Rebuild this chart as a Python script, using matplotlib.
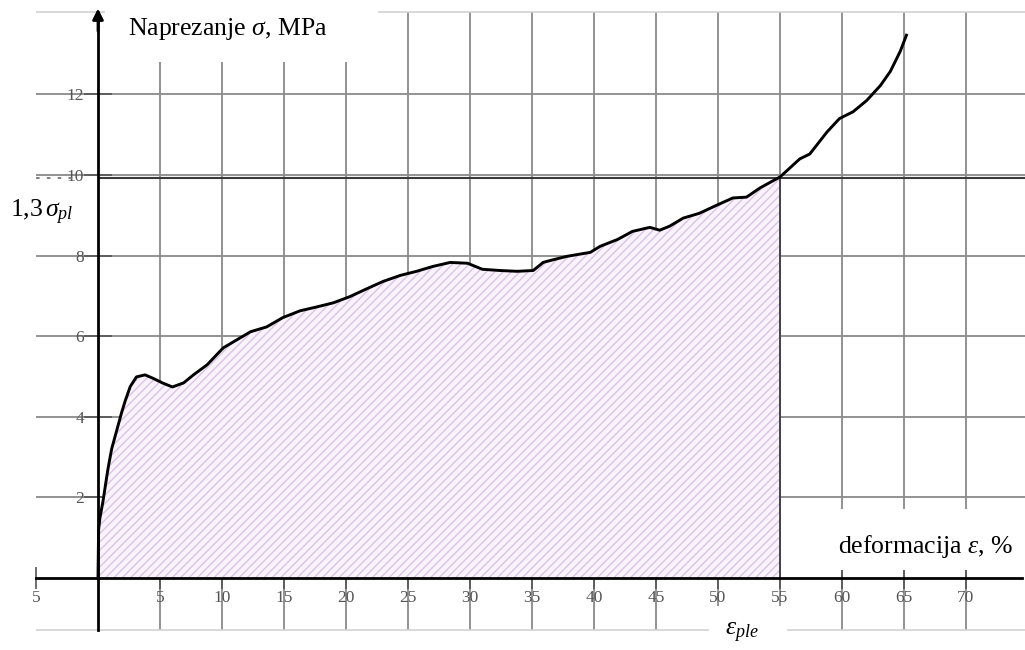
import matplotlib
matplotlib.use("Agg")
import matplotlib.pyplot as plt
import numpy as np
from matplotlib.patches import Rectangle

plt.rcParams["font.family"] = ["Liberation Serif", "DejaVu Serif"]
plt.rcParams["mathtext.fontset"] = "custom"
plt.rcParams["mathtext.rm"] = "Liberation Serif"
plt.rcParams["mathtext.it"] = "Liberation Serif:italic"
plt.rcParams["hatch.color"] = "#dcc2e6"
plt.rcParams["hatch.linewidth"] = 1.0

# Compression test: strain (%) vs. stress (MPa)
strain = [0.0, 0.05, 0.16, 0.4, 0.8, 1.1, 1.5, 1.9, 2.2, 2.6, 3.1, 3.8, 4.4, 5.2,
          6.0, 6.9, 7.7, 8.8, 10.1, 11.2, 12.3, 13.6, 14.9, 16.3, 17.7, 19.0,
          20.3, 21.7, 23.0, 24.4, 25.7, 27.0, 28.4, 29.8, 31.0, 32.4, 33.8,
          35.1, 35.9, 36.5, 37.8, 39.7, 40.5, 41.9, 43.1, 44.5, 45.3, 46.1,
          47.2, 48.5, 49.9, 51.2, 52.3, 53.4, 54.4, 55.0, 56.6, 57.4, 58.8,
          59.8, 60.9, 62.0, 63.1, 63.9, 64.7, 65.2]
stress = [0.0, 1.2, 1.5, 1.9, 2.7, 3.2, 3.65, 4.1, 4.4, 4.75, 4.99, 5.04, 4.96,
          4.84, 4.74, 4.84, 5.04, 5.29, 5.71, 5.91, 6.11, 6.23, 6.46, 6.63,
          6.73, 6.83, 6.98, 7.18, 7.36, 7.51, 7.61, 7.73, 7.83, 7.81, 7.66,
          7.63, 7.61, 7.63, 7.83, 7.88, 7.98, 8.08, 8.23, 8.40, 8.60, 8.70,
          8.63, 8.73, 8.93, 9.05, 9.25, 9.43, 9.45, 9.68, 9.85, 9.95, 10.4,
          10.52, 11.07, 11.4, 11.57, 11.85, 12.22, 12.57, 13.07, 13.47]

sigma_13pl = 9.93      # 1,3 * plateau stress
eps_ple = 55.0         # plateau end strain

xtick_vals = [-5, 5, 10, 15, 20, 25, 30, 35, 40, 45, 50, 55, 60, 65, 70]
xtick_labels = ["5", "5", "10", "15", "20", "25", "30", "35", "40", "45",
                "50", "55", "60", "65", "70"]
ytick_vals = [2, 4, 6, 8, 10, 12]
ytick_labels = ["2", "4", "6", "8", "10", "12"]

x_grid = [5, 10, 15, 20, 25, 30, 35, 40, 45, 50, 55, 60, 65, 70]
y_grid = [2, 4, 6, 8, 10, 12]
x_lo, x_hi = -5.0, 74.8
y_lo, y_hi = -1.29, 14.04

fig = plt.figure(figsize=(10.25, 6.5), dpi=100)
ax = fig.add_axes([0, 0, 1, 1])
ax.set_xlim(-7.903, 74.76)
ax.set_ylim(-1.787, 14.342)

grid_c = "#8a8a8a"
ax.vlines(x_grid, y_lo, y_hi, color=grid_c, lw=1.3, zorder=1)
ax.hlines(y_grid, x_lo, x_hi, color=grid_c, lw=1.3, zorder=1)
ax.hlines([y_lo, y_hi], x_lo, x_hi, color="#d2d2d2", lw=1.2, zorder=1)

# shaded energy-absorption area up to eps_ple
s = np.array(strain)
t = np.array(stress)
m = s <= eps_ple
ax.fill_between(s[m], 0, t[m], facecolor="#f9f3fb", edgecolor="#dcc2e6",
                hatch="////", lw=0, zorder=2)
ax.vlines(eps_ple, 0, t[m][-1], color="#444444", lw=1.4, zorder=3)

# 1,3 sigma_pl level
ax.hlines(sigma_13pl, 0, x_hi, color="#3a3a3a", lw=1.5, zorder=3)
ax.hlines(sigma_13pl, -5, -2.0, color="#777777", lw=1.3,
          linestyles=(0, (2, 4)), zorder=3)

ax.plot(strain, stress, color="black", lw=2.1, zorder=5,
        solid_joinstyle="round")

# white label boxes over the grid
for (x0, y0, w, h) in [(0.56, 12.8, 22.0, 2.0), (49.3, -1.8, 6.3, 1.1),
                       (59.0, 0.2, 15.9, 1.5)]:
    ax.add_patch(Rectangle((x0, y0), w, h, facecolor="white",
                           edgecolor="none", zorder=2.2))

# axes through the origin
for sp in ["top", "right"]:
    ax.spines[sp].set_visible(False)
ax.spines["left"].set_position(("data", 0))
ax.spines["bottom"].set_position(("data", 0))
ax.spines["left"].set_bounds(y_lo, 14.0)
ax.spines["bottom"].set_bounds(x_lo, 74.5)
for sp in ["left", "bottom"]:
    ax.spines[sp].set_linewidth(2.0)
    ax.spines[sp].set_zorder(6)
ax.annotate("", xy=(0, 14.2), xytext=(0, 13.5),
            arrowprops=dict(arrowstyle="-|>", color="black", lw=2,
                            mutation_scale=16), zorder=7)
ax.annotate("", xy=(74.9, 0), xytext=(73.5, 0),
            arrowprops=dict(arrowstyle="-|>", color="black", lw=2,
                            mutation_scale=16), zorder=7)

ax.set_xticks(xtick_vals, xtick_labels)
ax.set_yticks(ytick_vals, ytick_labels)
ax.tick_params(axis="x", direction="inout", length=16, width=1.2,
               color="#555555", labelsize=12.5, labelcolor="#555555", pad=1)
ax.tick_params(axis="y", direction="inout", length=20, width=1.2,
               color="#555555", labelsize=12.5, labelcolor="#555555", pad=0)

ax.text(2.42, 13.62, r"Naprezanje $\sigma$, MPa", fontsize=18.5,
        ha="left", va="center", zorder=8)
ax.text(59.7, 0.77, r"deformacija $\varepsilon$, %", fontsize=18.5,
        ha="left", va="center", zorder=8)
ax.text(-7.1, 9.08, r"1,3$\,\sigma_{pl}$", fontsize=18.5,
        ha="left", va="center", zorder=8)
ax.text(51.9, -1.36, r"$\varepsilon_{ple}$", fontsize=18.5,
        ha="center", va="center", zorder=8)

fig.savefig("out.png", dpi=100)
